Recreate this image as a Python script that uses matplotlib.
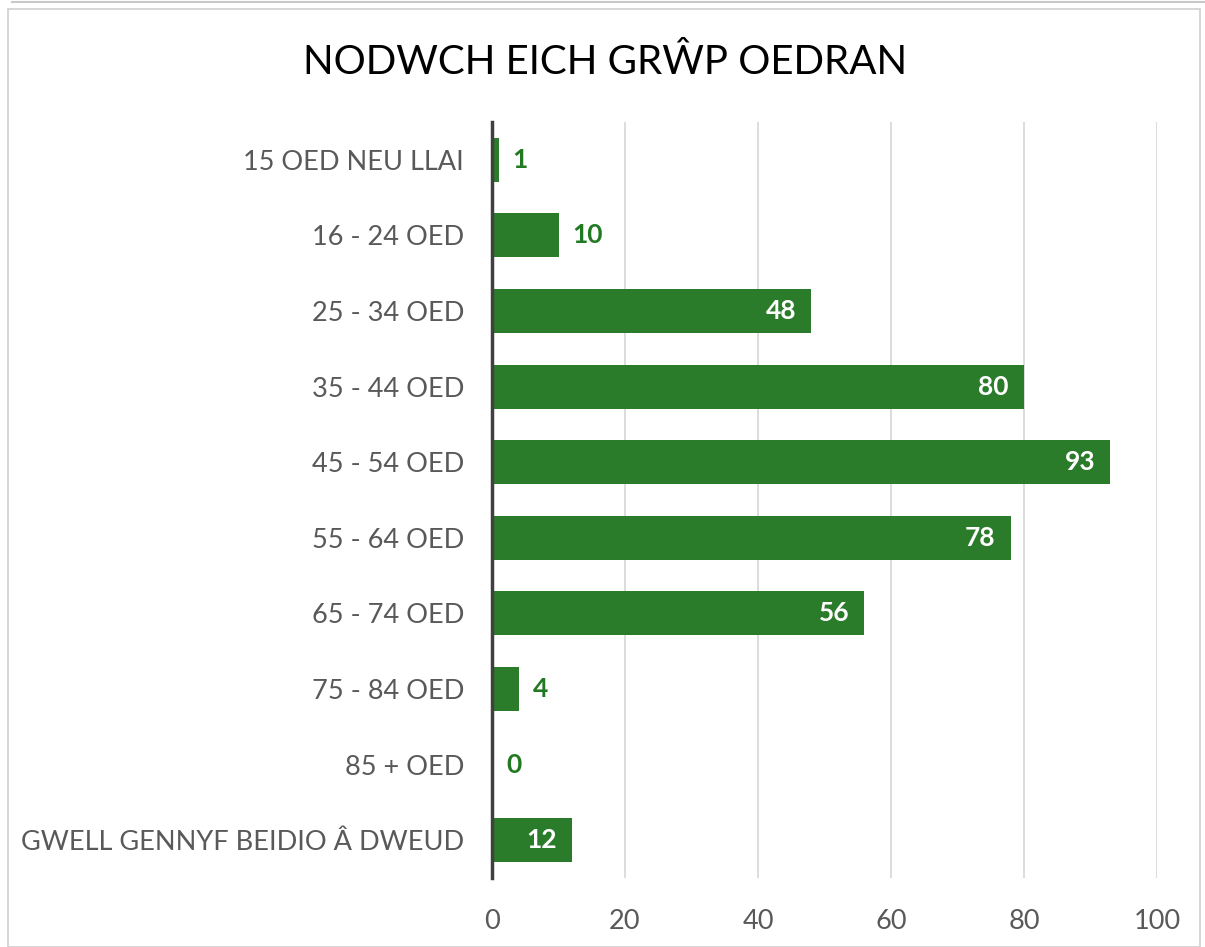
import matplotlib.pyplot as plt
from matplotlib.patches import Rectangle

# data
categories = ["15 OED NEU LLAI", "16 - 24 OED", "25 - 34 OED", "35 - 44 OED",
              "45 - 54 OED", "55 - 64 OED", "65 - 74 OED", "75 - 84 OED",
              "85 + OED", "GWELL GENNYF BEIDIO Â DWEUD"]
counts = [1, 10, 48, 80, 93, 78, 56, 4, 0, 12]
x_ticks = [0, 20, 40, 60, 80, 100]

BAR = "#2a7b2a"
LABEL_GREEN = "#217a21"
GREY_TXT = "#595959"

plt.rcParams['font.family'] = ['Lato', 'DejaVu Sans']

fig = plt.figure(figsize=(12.05, 9.47), dpi=100)
ax = fig.add_axes([492 / 1205, 69 / 947, 665 / 1205, 756 / 947])

y = list(range(len(categories)))
ax.barh(y, counts, height=0.58, color=BAR, zorder=3)

for yi, v in zip(y, counts):
    if v >= 12:
        ax.annotate(str(v), (v, yi), xytext=(-11, 0), textcoords="offset points",
                    ha="right", va="center", color="white",
                    fontsize=19, fontweight="bold", zorder=4)
    else:
        ax.annotate(str(v), (v, yi), xytext=(10, 0), textcoords="offset points",
                    ha="left", va="center", color=LABEL_GREEN,
                    fontsize=19, fontweight="bold", zorder=4)

ax.set_xlim(0, 100)
ax.set_ylim(len(categories) - 0.5, -0.5)
ax.set_xticks(x_ticks)
ax.set_yticks(y)
ax.set_yticklabels(categories)
ax.tick_params(axis="both", length=0, labelsize=19.5, colors=GREY_TXT)
ax.tick_params(axis="y", pad=20)
ax.tick_params(axis="x", pad=22)
ax.grid(axis="x", color="#d9d9d9", linewidth=1.3, zorder=0)

for s in ["top", "right", "bottom"]:
    ax.spines[s].set_visible(False)
ax.spines["left"].set_color("#404040")
ax.spines["left"].set_linewidth(2.5)
ax.spines["left"].set_zorder(5)

fig.text(605 / 1205, 1 - 62 / 947, "NODWCH EICH GRŴP OEDRAN",
         ha="center", va="center", fontsize=29, color="black")

# screenshot frame
fig.patches.append(Rectangle((8 / 1205, 0), 1192 / 1205, 1 - 9 / 947,
                             transform=fig.transFigure, fill=False,
                             edgecolor="#d0d0d0", linewidth=1.2))
fig.lines.append(plt.Line2D([12 / 1205, 1], [1 - 2 / 947, 1 - 2 / 947],
                            transform=fig.transFigure, color="#c8c8c8", linewidth=1.5))

fig.savefig("out.png", dpi=100)
